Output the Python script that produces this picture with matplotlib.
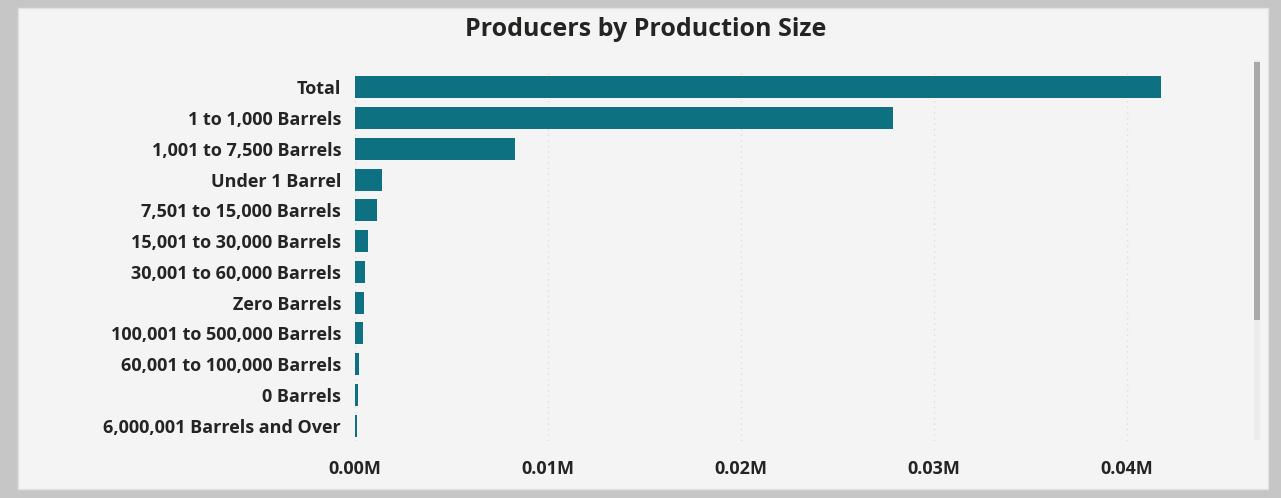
import matplotlib.pyplot as plt
from matplotlib.patches import Rectangle
from matplotlib.ticker import FuncFormatter

# Producer counts by annual production bracket
categories = [
    "Total",
    "1 to 1,000 Barrels",
    "1,001 to 7,500 Barrels",
    "Under 1 Barrel",
    "7,501 to 15,000 Barrels",
    "15,001 to 30,000 Barrels",
    "30,001 to 60,000 Barrels",
    "Zero Barrels",
    "100,001 to 500,000 Barrels",
    "60,001 to 100,000 Barrels",
    "0 Barrels",
    "6,000,001 Barrels and Over",
]
producers = [41800, 27900, 8300, 1400, 1150, 680, 540, 450, 430, 230, 130, 120]
x_ticks = [0, 10000, 20000, 30000, 40000]

bar_color = "#0e7181"
text_color = "#252423"
panel_color = "#f4f4f4"

plt.rcParams["font.family"] = ["Open Sans", "DejaVu Sans"]

W, H = 1281, 498
fig = plt.figure(figsize=(W / 100, H / 100), dpi=100)
fig.patch.set_facecolor("#c6c6c6")

# visual card with a scrollbar on the right
fig.patches.append(Rectangle((18 / W, 9 / H), 1250 / W, 481 / H,
                             transform=fig.transFigure, facecolor=panel_color,
                             edgecolor="#e2e2e2", lw=1, zorder=-3))
fig.patches.append(Rectangle((1254 / W, (H - 440) / H), 6 / W, 380 / H,
                             transform=fig.transFigure, facecolor="#ececec",
                             edgecolor="none", zorder=-2))
fig.patches.append(Rectangle((1254 / W, (H - 320) / H), 6 / W, 258 / H,
                             transform=fig.transFigure, facecolor="#a9a9a9",
                             edgecolor="none", zorder=-1))

left, right = 355, 1200
top, bottom = 72, 441
ax = fig.add_axes([left / W, (H - bottom) / H, (right - left) / W, (bottom - top) / H])
ax.set_zorder(5)
ax.patch.set_visible(False)

y = list(range(len(categories)))
ax.barh(y, producers, height=0.72, color=bar_color, zorder=3)
ax.set_yticks(y)
ax.set_yticklabels(categories)
ax.set_ylim(len(categories) - 0.5, -0.5)

ax.set_xlim(0, 43800)
ax.set_xticks(x_ticks)
ax.xaxis.set_major_formatter(FuncFormatter(lambda v, _: f"{v / 1e6:.2f}M"))
ax.grid(axis="x", color="#dcdcdc", linestyle=(0, (1, 3)), lw=1, zorder=0)

ax.tick_params(axis="y", length=0, pad=10, labelsize=13, labelcolor=text_color)
ax.tick_params(axis="x", length=0, pad=14, labelsize=13, labelcolor=text_color)
for lbl in ax.get_xticklabels() + ax.get_yticklabels():
    lbl.set_fontweight("bold")
for s in ax.spines.values():
    s.set_visible(False)

fig.text(646 / W, 1 - 30 / H, "Producers by Production Size", ha="center", va="center",
         fontsize=18, fontweight="bold", color=text_color)

fig.savefig("out.png", dpi=100, facecolor=fig.get_facecolor())
